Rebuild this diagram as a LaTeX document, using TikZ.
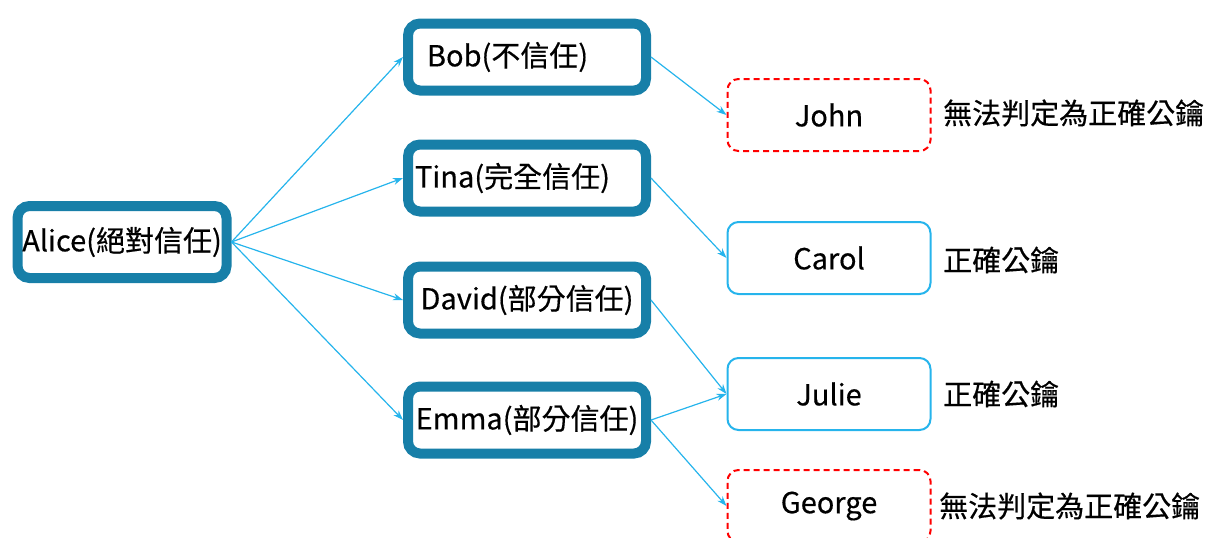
\documentclass[tikz,border=0pt]{standalone}
\usepackage{fontspec}
\setmainfont{Noto Sans CJK TC}[RawFeature={embolden=0.4}]
\usetikzlibrary{arrows.meta}
\definecolor{trustblue}{RGB}{23,127,168}
\definecolor{keyblue}{RGB}{38,180,236}

\begin{document}
\begin{tikzpicture}[
  x=1pt,y=-1pt,
  trust/.style={draw=trustblue,line width=10pt,rounded corners=12pt,fill=white,
    inner sep=0pt,minimum width=238pt,minimum height=67pt,font=\fontsize{29}{32}\selectfont},
  goodkey/.style={draw=keyblue,line width=2pt,rounded corners=11pt,fill=white,
    inner sep=0pt,minimum width=203pt,minimum height=72pt,font=\fontsize{29}{32}\selectfont},
  badkey/.style={goodkey,draw=red,dash pattern=on 6pt off 4pt},
  note/.style={anchor=west,inner sep=0pt,font=\fontsize{29}{32}\selectfont},
  link/.style={keyblue,line width=1.2pt,-{Stealth[length=10pt,width=7pt]}}
]
  \useasboundingbox (0,0) rectangle (1205,538);
  \node[trust,minimum width=209pt,minimum height=72pt] (alice) at (122,242) {Alice(絕對信任)};
  \node[trust] (bob) at (527,57) {\makebox[200pt][l]{Bob(不信任)}};
  \node[trust] (tina) at (527,178) {\makebox[224pt][l]{Tina(完全信任)}};
  \node[trust] (david) at (527,300) {David(部分信任)};
  \node[trust] (emma) at (527,420) {Emma(部分信任)\hspace{4pt}};
  \node[badkey] (john) at (829,115) {John};
  \node[goodkey] (carol) at (829,258) {Carol};
  \node[goodkey] (julie) at (829,394) {Julie};
  \node[badkey] (george) at (829,506) {George};
  \node[note] (johnnote) at (943,113) {無法判定為正確公鑰};
  \node[note] (carolnote) at (943,260) {正確公鑰};
  \node[note] (julienote) at (943,394) {正確公鑰};
  \node[note] (georgenote) at (939,506) {無法判定為正確公鑰};
  \draw[link] (alice.east) -- (bob.west);
  \draw[link] (alice.east) -- (tina.west);
  \draw[link] (alice.east) -- (david.west);
  \draw[link] (alice.east) -- (emma.west);
  \draw[link] (bob.east) -- (john.west);
  \draw[link] (tina.east) -- (carol.west);
  \draw[link] (david.east) -- (julie.west);
  \draw[link] (emma.east) -- (julie.west);
  \draw[link] (emma.east) -- (george.west);
\end{tikzpicture}
\end{document}
